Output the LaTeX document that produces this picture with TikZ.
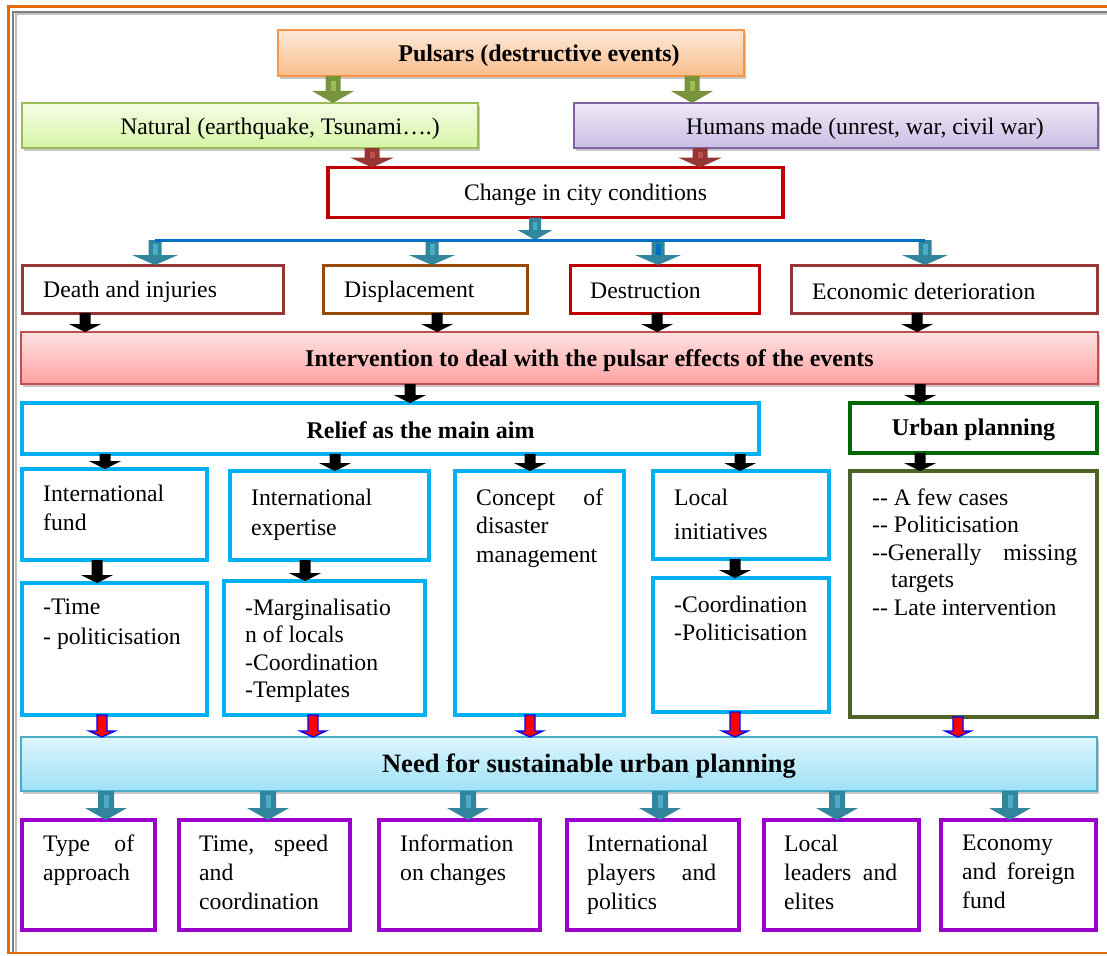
\documentclass[tikz,border=0pt]{standalone}
\usepackage{fontspec}
\setmainfont{Liberation Serif}
\usetikzlibrary{calc,shadows}
\definecolor{frameor}{HTML}{E36C09}
\definecolor{framegr}{HTML}{7F7F7F}
\definecolor{framelg}{HTML}{BFBFBF}
\definecolor{pulsT}{HTML}{FDE9D9}
\definecolor{pulsB}{HTML}{FBBE8C}
\definecolor{pulsD}{HTML}{F79646}
\definecolor{natT}{HTML}{F4FCE6}
\definecolor{natB}{HTML}{D8F5A6}
\definecolor{natD}{HTML}{9BBB59}
\definecolor{humT}{HTML}{EEE9F6}
\definecolor{humB}{HTML}{CBBEE4}
\definecolor{humD}{HTML}{8064A2}
\definecolor{chgD}{HTML}{C00000}
\definecolor{brnD}{HTML}{953735}
\definecolor{orgD}{HTML}{984807}
\definecolor{intT}{HTML}{FFE1E1}
\definecolor{intB}{HTML}{FFA3A3}
\definecolor{intD}{HTML}{C0504D}
\definecolor{cyanD}{HTML}{00B0F0}
\definecolor{urbD}{HTML}{006600}
\definecolor{oliveD}{HTML}{4F6228}
\definecolor{needT}{HTML}{DDF5FC}
\definecolor{needB}{HTML}{9EE1F6}
\definecolor{needD}{HTML}{4BACC6}
\definecolor{purD}{HTML}{9900CC}
\definecolor{arrG}{HTML}{77933C}
\definecolor{arrGl}{HTML}{9BBB59}
\definecolor{arrR}{HTML}{953735}
\definecolor{arrRl}{HTML}{C0504D}
\definecolor{arrT}{HTML}{31859C}
\definecolor{arrTl}{HTML}{4BACC6}
\definecolor{barB}{HTML}{0070C0}
% block arrow: #1 style, #2 from, #3 to, #4 half shaft, #5 half head, #6 head length
\newcommand\blockarr[6]{%
  \path[#1] let \p1=#2, \p2=#3 in (\x1-#4,\y1) -- (\x1+#4,\y1) -- (\x1+#4,\y2+#6) -- (\x1+#5,\y2+#6) -- (\x1,\y2) -- (\x1-#5,\y2+#6) -- (\x1-#4,\y2+#6) -- cycle;}
% stripe: #1 colour, #2 from, #3 to, #4 half width, #5 head length, #6 top offset
\newcommand\arrstripe[6]{%
  \fill[#1] let \p1=#2, \p2=#3 in (\x1-#4,\y1-#6) rectangle (\x1+#4,\y2+#5);}
\newcommand\garr[2]{\blockarr{fill=arrG}{#1}{#2}{7.5pt}{21pt}{12pt}\arrstripe{arrGl}{#1}{#2}{2.5pt}{12pt}{5pt}}
\newcommand\rarr[2]{\blockarr{fill=arrR}{#1}{#2}{7.5pt}{22pt}{10pt}\arrstripe{arrRl}{#1}{#2}{2.5pt}{10pt}{4pt}}
\newcommand\tarr[3]{\blockarr{fill=arrT}{#1}{#2}{6.5pt}{23pt}{10pt}\arrstripe{#3}{#1}{#2}{2.5pt}{10pt}{4pt}}
\newcommand\karr[2]{\blockarr{fill=black}{#1}{#2}{5.5pt}{16pt}{8pt}}
\newcommand\xarr[2]{\blockarr{fill=red,draw=blue,line width=1.3pt}{#1}{#2}{5pt}{13pt}{6pt}}
\newcommand\tbarr[2]{\blockarr{fill=arrT}{#1}{#2}{8pt}{21pt}{12pt}\arrstripe{arrTl}{#1}{#2}{2.5pt}{12pt}{4pt}}
\begin{document}
\begin{tikzpicture}[x=1pt,y=-1pt,
  box/.style={draw, inner sep=0pt, outer sep=0pt, anchor=north west},
  shad/.style={drop shadow={shadow xshift=2pt, shadow yshift=-3pt, fill=black, opacity=0.22}},
  txt/.style={inner sep=0pt, align=left, anchor=north west, font=\fontsize{23.7}{29}\selectfont},
  ltxt/.style={inner sep=0pt, anchor=west, font=\fontsize{23.7}{29}\selectfont},
  ctxt/.style={inner sep=0pt, font=\fontsize{23.7}{29}\selectfont},
  btxt/.style={inner sep=0pt, font=\bfseries\fontsize{24}{29}\selectfont},
  barline/.style={draw=barB, line width=3pt}
]
\useasboundingbox (0,0) rectangle (1107,955);
\fill[white] (0,0) rectangle (1107,955);
% page frame
\draw[framelg, line width=2pt] (15.5,953) -- (15.5,14.5) -- (1107,14.5);
\draw[framegr, line width=2pt] (12.5,953) -- (12.5,12) -- (1107,12);
\draw[frameor, line width=2.6pt] (1107,953) -- (8.5,953) -- (8.5,6.3) -- (1107,6.3);

% top boxes
\node[box, shad, draw=pulsD, line width=1.5pt, top color=pulsT, bottom color=pulsB, minimum width=466pt, minimum height=46pt] (pulsars) at (278,30) {};
\node[btxt] (t-pulsars) at ([xshift=28pt,yshift=-3pt]pulsars.center) {Pulsars (destructive events)};
\node[box, shad, draw=natD, line width=1.5pt, top color=natT, bottom color=natB, minimum width=456pt, minimum height=45pt] (natural) at (22,103) {};
\node[ctxt] (t-natural) at ([xshift=30pt,yshift=-3pt]natural.center) {Natural (earthquake, Tsunami….)};
\node[box, shad, draw=humD, line width=1.5pt, top color=humT, bottom color=humB, minimum width=524pt, minimum height=45pt] (humans) at (574,103) {};
\node[ctxt] (t-humans) at ([xshift=29pt,yshift=-3pt]humans.center) {Humans made (unrest, war, civil war)};
\node[box, draw=chgD, line width=3.6pt, fill=white, minimum width=455pt, minimum height=50pt] (change) at (328,167.5) {};
\node[ctxt] (t-change) at ([xshift=30pt,yshift=-2pt]change.center) {Change in city conditions};

% effects row
\node[box, draw=brnD, line width=3pt, minimum width=261pt, minimum height=48pt] (death) at (22,265) {};
\node[ltxt] (t-death) at ([xshift=21pt,yshift=-3pt]death.west) {Death and injuries};
\node[box, draw=orgD, line width=3pt, minimum width=204pt, minimum height=48pt] (displace) at (323,265) {};
\node[ltxt] (t-displace) at ([xshift=21pt,yshift=-3pt]displace.west) {Displacement};
\node[box, draw=chgD, line width=3pt, minimum width=189pt, minimum height=48pt] (destruct) at (570,265) {};
\node[ltxt] (t-destruct) at ([xshift=20pt,yshift=-2pt]destruct.west) {Destruction};
\node[box, draw=brnD, line width=3pt, minimum width=306pt, minimum height=48pt] (econ) at (791,265) {};
\node[ltxt] (t-econ) at ([xshift=21pt,yshift=-2pt]econ.west) {Economic deterioration};

% intervention
\node[box, shad, draw=intD, line width=1.5pt, top color=intT, bottom color=intB, minimum width=1077pt, minimum height=52pt] (interv) at (21,332) {};
\node[btxt] (t-interv) at ([xshift=30pt,yshift=-3pt]interv.center) {Intervention to deal with the pulsar effects of the events};

% relief and urban planning
\node[box, draw=cyanD, line width=3.6pt, minimum width=737pt, minimum height=51pt] (relief) at (22,403) {};
\node[btxt] (t-relief) at ([xshift=30pt,yshift=-2pt]relief.center) {Relief as the main aim};
\node[box, draw=urbD, line width=3.6pt, minimum width=247pt, minimum height=50pt] (urban) at (850,403) {};
\node[btxt] (t-urban) at ([xshift=0pt,yshift=-2pt]urban.center) {Urban planning};

% relief sub boxes
\node[box, draw=cyanD, line width=3.4pt, minimum width=185pt, minimum height=91pt] (fund) at (22,469) {};
\node[txt] (t-fund) at (43,484.5) {International\\fund};
\node[box, draw=cyanD, line width=3.4pt, minimum width=199pt, minimum height=89pt] (expert) at (230,471) {};
\node[txt, font=\fontsize{23.7}{30}\selectfont] (t-expert) at (251,488.5) {International\\expertise};
\node[box, draw=cyanD, line width=3.4pt, minimum width=169pt, minimum height=244pt] (concept) at (455,471) {};
\node[txt, font=\fontsize{23.7}{28.5}\selectfont] (t-concept) at (476,488.5) {\makebox[127pt][s]{Concept of}\\disaster\\management};
\node[box, draw=cyanD, line width=3.4pt, minimum width=176pt, minimum height=88pt] (local) at (653,471) {};
\node[txt, font=\fontsize{23.7}{34}\selectfont] (t-local) at (674,488.5) {Local\\initiatives};
\node[box, draw=oliveD, line width=3.4pt, minimum width=247pt, minimum height=246pt] (urbdet) at (850,471) {};
\node[txt, font=\fontsize{23.7}{27.5}\selectfont] (t-urbdet) at (872,488.5) {-{}- A few cases\\-{}- Politicisation\\\makebox[205pt][s]{-{}-Generally missing}\\\hspace*{19pt}targets\\-{}- Late intervention};

\node[box, draw=cyanD, line width=3.4pt, minimum width=185pt, minimum height=132pt] (time) at (22,583) {};
\node[txt, font=\fontsize{23.7}{30}\selectfont] (t-time) at (43,598.5) {-Time\\- politicisation};
\node[box, draw=cyanD, line width=3.4pt, minimum width=201pt, minimum height=134pt] (margin) at (224,581) {};
\node[txt, font=\fontsize{23.7}{27.5}\selectfont] (t-margin) at (245,598.5) {-Marginalisatio\\n of locals\\-Coordination\\-Templates};
\node[box, draw=cyanD, line width=3.4pt, minimum width=176pt, minimum height=134pt] (coord) at (653,578) {};
\node[txt, font=\fontsize{23.7}{28}\selectfont] (t-coord) at (674,595.5) {-Coordination\\-Politicisation};

% need
\node[box, shad, draw=needD, line width=1.5pt, top color=needT, bottom color=needB, minimum width=1076pt, minimum height=54pt] (need) at (21,737) {};
\node[btxt, font=\bfseries\fontsize{26.5}{30}\selectfont] (t-need) at ([xshift=30pt,yshift=-2.5pt]need.center) {Need for sustainable urban planning};

% bottom boxes
\node[box, draw=purD, line width=3.6pt, minimum width=133pt, minimum height=110pt] (b1) at (22,820) {};
\node[txt] (t-b1) at (43,834.5) {\makebox[91pt][s]{Type of}\\approach};
\node[box, draw=purD, line width=3.6pt, minimum width=171pt, minimum height=110pt] (b2) at (179,820) {};
\node[txt] (t-b2) at (199,834.5) {\makebox[129pt][s]{Time, speed}\\and\\coordination};
\node[box, draw=purD, line width=3.6pt, minimum width=161pt, minimum height=110pt] (b3) at (379,820) {};
\node[txt] (t-b3) at (400,834.5) {Information\\on changes};
\node[box, draw=purD, line width=3.6pt, minimum width=172pt, minimum height=110pt] (b4) at (567,820) {};
\node[txt] (t-b4) at (587,834.5) {International\\\makebox[129pt][s]{players and}\\politics};
\node[box, draw=purD, line width=3.6pt, minimum width=155pt, minimum height=110pt] (b5) at (764,820) {};
\node[txt] (t-b5) at (784,834.5) {Local\\\makebox[113pt][s]{leaders and}\\elites};
\node[box, draw=purD, line width=3.6pt, minimum width=155pt, minimum height=110pt] (b6) at (941,820) {};
\node[txt] (t-b6) at (962,834.5) {Economy\\\makebox[113pt][s]{and foreign}\\fund};

% connectors
\garr{(333,0 |- pulsars.south)}{(333,0 |- natural.north)}
\garr{(692,0 |- pulsars.south)}{(692,0 |- humans.north)}
\rarr{(372,0 |- natural.south)}{(372,0 |- change.north)}
\rarr{(700,0 |- humans.south)}{(700,0 |- change.north)}

\coordinate (barL) at (155,240);
\coordinate (barR) at (925,240);
\blockarr{fill=arrT}{(535,0 |- change.south)}{(535,0 |- barL)}{6pt}{17.5pt}{10pt}
\arrstripe{arrTl}{(535,0 |- change.south)}{(535,0 |- barL)}{2pt}{10pt}{4pt}
\tarr{(barL)}{(155,0 |- death.north)}{arrTl}
\tarr{(432,0 |- barL)}{(432,0 |- displace.north)}{arrTl}
\tarr{(658,0 |- barL)}{(658,0 |- destruct.north)}{barB}
\tarr{(barR)}{(925,0 |- econ.north)}{arrTl}
\draw[barline] (barL) -- (barR);

\karr{(85,0 |- death.south)}{(85,0 |- interv.north)}
\karr{(437,0 |- displace.south)}{(437,0 |- interv.north)}
\karr{(657,0 |- destruct.south)}{(657,0 |- interv.north)}
\karr{(917,0 |- econ.south)}{(917,0 |- interv.north)}
\karr{(410,0 |- interv.south)}{(410,0 |- relief.north)}
\karr{(920,0 |- interv.south)}{(920,0 |- urban.north)}
\karr{(105,0 |- relief.south)}{(105,0 |- fund.north)}
\karr{(335,0 |- relief.south)}{(335,0 |- expert.north)}
\karr{(530,0 |- relief.south)}{(530,0 |- concept.north)}
\karr{(740,0 |- relief.south)}{(740,0 |- local.north)}
\karr{(920,0 |- urban.south)}{(920,0 |- urbdet.north)}
\karr{(97,0 |- fund.south)}{(97,0 |- time.north)}
\karr{(305,0 |- expert.south)}{(305,0 |- margin.north)}
\karr{(735,0 |- local.south)}{(735,0 |- coord.north)}

\xarr{(102,0 |- time.south)}{(102,0 |- need.north)}
\xarr{(313,0 |- margin.south)}{(313,0 |- need.north)}
\xarr{(530,0 |- concept.south)}{(530,0 |- need.north)}
\xarr{(735,0 |- coord.south)}{(735,0 |- need.north)}
\xarr{(958,0 |- urbdet.south)}{(958,0 |- need.north)}

\tbarr{(106,0 |- need.south)}{(106,0 |- b1.north)}
\tbarr{(268,0 |- need.south)}{(268,0 |- b2.north)}
\tbarr{(468,0 |- need.south)}{(468,0 |- b3.north)}
\tbarr{(660,0 |- need.south)}{(660,0 |- b4.north)}
\tbarr{(837,0 |- need.south)}{(837,0 |- b5.north)}
\tbarr{(1010,0 |- need.south)}{(1010,0 |- b6.north)}
\end{tikzpicture}
\end{document}
